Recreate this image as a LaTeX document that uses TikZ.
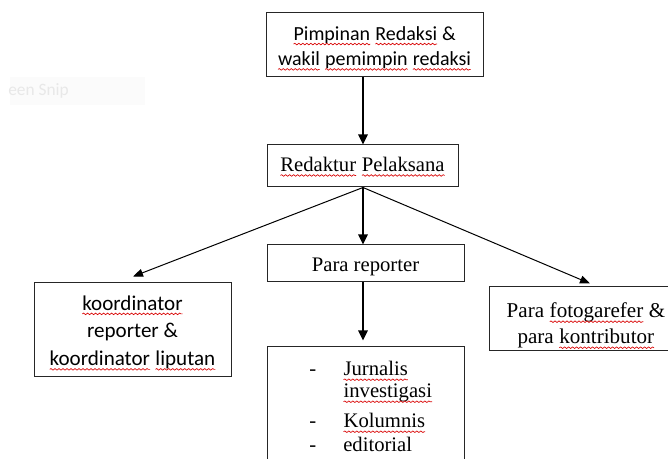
\documentclass[tikz,border=0pt]{standalone}
\usepackage{fontspec}
\setmainfont{Liberation Serif}
\newfontfamily\sansf{Carlito}
\usetikzlibrary{arrows.meta,calc,decorations.pathmorphing}

% red wavy underline for flagged words
\newcommand\spell[1]{\tikz[baseline=(w.base), x=1pt, y=1pt]{%
  \node[inner sep=0pt, outer sep=0pt, minimum width=0pt, minimum height=0pt, draw=none, fill=none, anchor=base] (w) at (0,0) {#1};
  \draw[red!85!black, line width=0.5pt, decorate, decoration={snake, amplitude=0.6pt, segment length=3pt}]
    ([yshift=-2.8pt]w.base west) -- ([yshift=-2.8pt]w.base east);}}

\tikzset{
  box/.style={draw=black!85, line width=0.75pt, inner sep=0pt},
  label/.style={inner sep=0pt, align=center},
  serif/.style={font=\fontsize{15.5}{19.5}\selectfont},
  sans/.style={font=\sansf\fontsize{15}{19}\selectfont},
  mainarrow/.style={line width=1.5pt, -{Triangle[length=7.5pt,width=7pt]}},
  sidearrow/.style={line width=0.75pt, -{Triangle[length=7.5pt,width=6pt]}},
  listtext/.style={serif, inner sep=0pt, anchor=base west},
}

\begin{document}
\begin{tikzpicture}[x=0.75pt, y=-0.75pt]
  \useasboundingbox (0,0) rectangle (668,459);
  \fill[white] (0,0) rectangle (668,459);
  \clip (0,0) rectangle (668,459);

  % faint overlay label at the left
  \node[fill=gray!3, minimum width={135*0.75pt}, minimum height={28*0.75pt}, inner sep=0pt] (snip) at (77.5,91) {};
  \node[anchor=west, inner sep=0pt, text=gray!18, font=\sansf\fontsize{13}{15}\selectfont] (sniptext) at (8,91) {een Snip};

  % boxes
  \node[box, minimum width={217*0.75pt}, minimum height={64*0.75pt}] (top) at (374.5,45) {};
  \node[box, minimum width={191*0.75pt}, minimum height={42*0.75pt}] (exec) at (362.5,166) {};
  \node[box, minimum width={197*0.75pt}, minimum height={37*0.75pt}] (rep) at (365.5,263.5) {};
  \node[box, minimum width={197*0.75pt}, minimum height={130*0.75pt}] (list) at (365.5,412) {};
  \node[box, minimum width={197*0.75pt}, minimum height={94*0.75pt}] (coord) at (132.5,330) {};
  \node[box, minimum width={194*0.75pt}, minimum height={64*0.75pt}] (photo) at (586,319) {};

  % box texts
  \node[label, sans] (top-text) at (374.5,48.5)
    {\spell{Pimpinan} \spell{Redaksi} \&\\ \spell{wakil} \spell{pemimpin} \spell{redaksi}};
  \node[label, serif] (exec-text) at (362.5,167) {\spell{Redaktur} \spell{Pelaksana}};
  \node[label, serif] (rep-text) at (365.5,267) {Para reporter};
  \node[label, font=\sansf\fontsize{15.8}{20.8}\selectfont] (coord-text) at (132.5,333)
    {\spell{koordinator}\\ reporter \&\\ \spell{koordinator} \spell{liputan}};
  \node[label, font=\fontsize{15.8}{19.5}\selectfont] (photo-text) at (586,326)
    {Para \spell{fotogarefer} \&\\ para \spell{kontributor}};

  % list inside the bottom box
  \node[listtext] (d1) at (309,376) {-};
  \node[listtext] (i1) at (343,376) {\spell{Jurnalis}};
  \node[listtext] (i1b) at (343,398) {\spell{investigasi}};
  \node[listtext] (d2) at (309,428) {-};
  \node[listtext] (i2) at (343,428) {\spell{Kolumnis}};
  \node[listtext] (d3) at (309,452) {-};
  \node[listtext] (i3) at (343,452) {editorial};

  % connectors
  \coordinate (hub) at ($(exec.south)+(0.5,0)$);
  \coordinate (lefttip) at ($(coord.north)+(0.5,-6)$);
  \coordinate (righttip) at ($(photo.north)+(4,-3)$);
  \draw[mainarrow] (top.south -| hub) -- (exec.north -| hub);
  \draw[mainarrow] (hub) -- (rep.north -| hub);
  \draw[mainarrow, shorten >=4.5pt] (rep.south -| hub) -- (list.north -| hub);
  \draw[sidearrow] (hub) -- (lefttip);
  \draw[sidearrow] (hub) -- (righttip);
\end{tikzpicture}
\end{document}
